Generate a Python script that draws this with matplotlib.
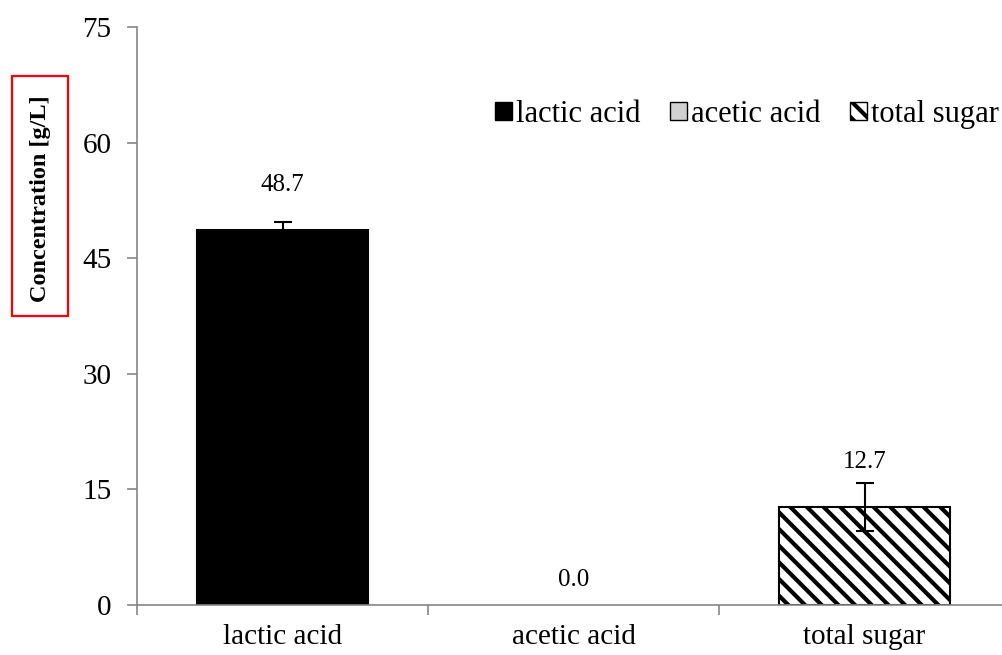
import numpy as np
import matplotlib
matplotlib.use("Agg")
import matplotlib.pyplot as plt
from matplotlib.patches import Patch, Rectangle

# ── Data ─────────────────────────────────────────────────────────────────────
categories = ["lactic acid", "acetic acid", "total sugar"]
values     = [48.7, 0.0, 12.7]
errors     = [1.0, 0.0, 3.1]
labels     = ["48.7", "0.0", "12.7"]
y_ticks    = [0, 15, 30, 45, 60, 75]

# ── Style ────────────────────────────────────────────────────────────────────
plt.rcParams["font.family"] = ["Liberation Serif", "DejaVu Serif"]
plt.rcParams["hatch.linewidth"] = 3.0
AXIS_GRAY  = "#868686"
fills      = ["black", "#d0d0d0", "white"]
hatches    = [None, None, "\\\\"]
label_off  = [45, 25, 45]   # px above bar top

fig = plt.figure(figsize=(10.02, 6.55), dpi=100)
ax = fig.add_axes([137 / 1002, 50 / 655, 873 / 1002, 578 / 655])

x = np.arange(len(categories))
for i in range(len(categories)):
    ax.bar(x[i], values[i], width=0.59, color=fills[i], edgecolor="black",
           linewidth=1.5 if values[i] > 0 else 0, hatch=hatches[i], zorder=2)
    if errors[i] > 0:
        ax.errorbar(x[i], values[i], yerr=errors[i], fmt="none", ecolor="black",
                    elinewidth=1.5, capsize=6.5, capthick=1.5, zorder=3)
    ax.annotate(labels[i], (x[i], values[i]), xytext=(0, label_off[i] * 0.72),
                textcoords="offset points", ha="center", va="center",
                fontsize=18)

ax.set_xlim(-0.5, 2.5)
ax.set_ylim(0, 75)
ax.set_yticks(y_ticks)
ax.tick_params(axis="y", direction="out", length=7, width=1.2,
               color=AXIS_GRAY, labelsize=21, pad=11.5)

# category boundaries as major ticks, names on minor ticks
ax.set_xticks([-0.5, 0.5, 1.5, 2.5])
ax.set_xticklabels([])
ax.set_xticks(x, minor=True)
ax.set_xticklabels(categories, minor=True)
ax.tick_params(axis="x", which="major", direction="out", length=7, width=1.2,
               color=AXIS_GRAY)
ax.tick_params(axis="x", which="minor", length=0, labelsize=21, pad=14)

for s in ["top", "right"]:
    ax.spines[s].set_visible(False)
for s in ["left", "bottom"]:
    ax.spines[s].set_color(AXIS_GRAY)
    ax.spines[s].set_linewidth(1.2)

# y label with red frame
fig.text(41 / 1002, 1 - 199 / 655, "Concentration [g/L]", rotation=90,
         ha="center", va="center", fontsize=17.5, fontweight="bold")
fig.patches.append(Rectangle((12 / 1002, 1 - 316 / 655), 56 / 1002, 240 / 655,
                             transform=fig.transFigure, fill=False,
                             edgecolor="#ff0000", linewidth=1.6))

handles = [Patch(facecolor=fills[i], edgecolor="black", linewidth=1.0,
                 hatch=hatches[i]) for i in range(len(categories))]
fig.legend(handles, categories, loc="upper right",
           bbox_to_anchor=(999 / 1002, 1 - 100 / 655), ncol=3, frameon=False,
           fontsize=22, handlelength=0.55, handleheight=0.55,
           handletextpad=0.15, columnspacing=0.95, borderpad=0,
           borderaxespad=0)

fig.savefig("out.png", dpi=100)
